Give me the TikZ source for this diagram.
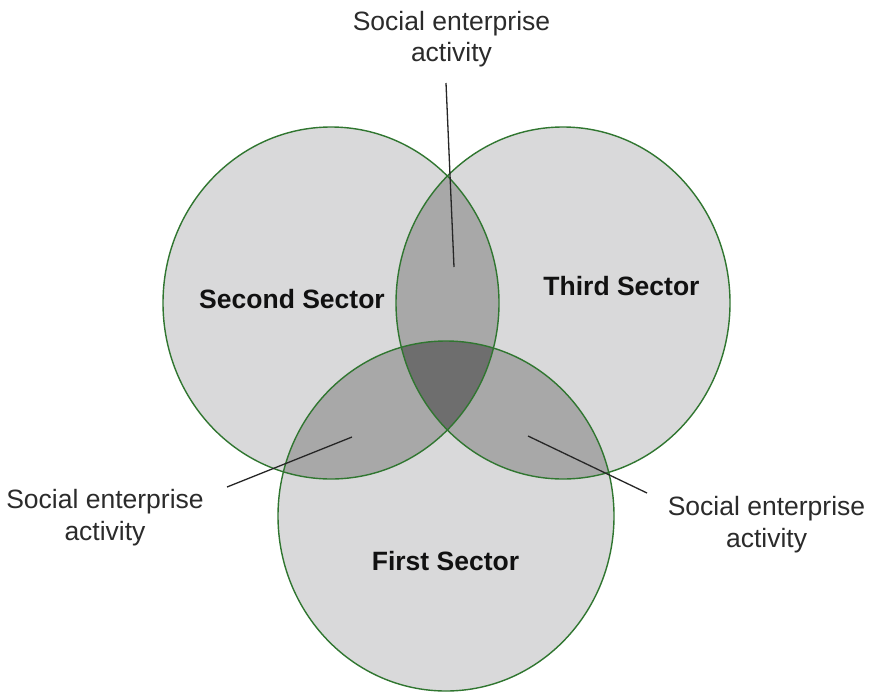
\documentclass[tikz,border=0pt]{standalone}
\usepackage{fontspec}
\setmainfont{Liberation Sans}
\definecolor{onefill}{HTML}{D9D9DA}
\definecolor{twofill}{HTML}{A8A8A8}
\definecolor{threefill}{HTML}{6E6E6E}
\definecolor{rim}{RGB}{48,118,48}
\definecolor{inkdark}{HTML}{111111}
\definecolor{inksoft}{HTML}{2B2B2B}
\tikzset{
  sectorname/.style={font=\fontsize{26.5}{31}\selectfont\bfseries, text=inkdark, inner sep=0pt},
  activity/.style={font=\fontsize{26.5}{31.5}\selectfont, text=inksoft, align=center, inner sep=0pt},
  pointer/.style={draw=black!85, line width=1.3pt},
  rimline/.style={draw=rim, line width=1.4pt},
}
\newcommand{\secondset}{(331,303) ellipse [x radius=168, y radius=176]}
\newcommand{\thirdset}{(563,303) ellipse [x radius=167, y radius=176]}
\newcommand{\firstset}{(446,516) ellipse [x radius=168, y radius=175]}
\begin{document}
\begin{tikzpicture}[x=1pt,y=-1pt]
  \useasboundingbox (0,0) rectangle (872,693);
  \fill[white] (0,0) rectangle (872,693);

  % base discs
  \fill[onefill] \secondset;
  \fill[onefill] \thirdset;
  \fill[onefill] \firstset;

  % pairwise overlaps
  \begin{scope}
    \clip \secondset;
    \fill[twofill] \thirdset;
    \fill[twofill] \firstset;
  \end{scope}
  \begin{scope}
    \clip \thirdset;
    \fill[twofill] \firstset;
  \end{scope}

  % common core of all three
  \begin{scope}
    \clip \secondset;
    \clip \thirdset;
    \fill[threefill] \firstset;
  \end{scope}

  % outlines
  \draw[rimline] \secondset;
  \draw[rimline] \thirdset;
  \draw[rimline] \firstset;

  % sector names
  \node[sectorname] (second) at (292,299) {Second Sector};
  \node[sectorname] (third) at (621.5,286) {Third Sector};
  \node[sectorname] (first) at (445.5,561) {First Sector};

  % overlap labels (base = baseline of the lower line)
  \node[activity, anchor=base] (topact) at (451.5,62) {Social enterprise\\activity};
  \node[activity, anchor=base] (leftact) at (105,540) {Social enterprise\\activity};
  \node[activity, anchor=base] (rightact) at (766.5,547) {Social enterprise\\activity};

  % pointer lines into the overlaps
  \coordinate (topfrom) at (446,83);
  \coordinate (topto) at (454,267);
  \coordinate (leftfrom) at (227,487);
  \coordinate (leftto) at (352,437);
  \coordinate (rightfrom) at (647,493);
  \coordinate (rightto) at (528,436);
  \draw[pointer] (topfrom) -- (topto);
  \draw[pointer] (leftfrom) -- (leftto);
  \draw[pointer] (rightfrom) -- (rightto);
\end{tikzpicture}
\end{document}
